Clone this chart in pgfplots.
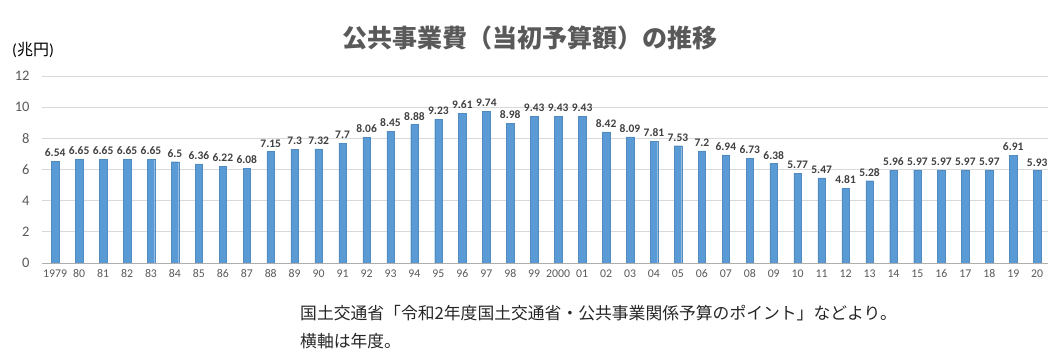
\documentclass[border=0pt]{standalone}
\usepackage{pgfplots}
\pgfplotsset{compat=1.18}
\usepackage{fontspec}
\setmainfont{Carlito}
\newfontfamily\jp{Noto Sans CJK JP}
\definecolor{barblue}{HTML}{5B9BD5}
\definecolor{txtgray}{HTML}{595959}
\definecolor{lblgray}{HTML}{404040}
\definecolor{gridgray}{HTML}{D9D9D9}
\begin{document}
\begin{tikzpicture}[x=1pt,y=1pt]
\path[use as bounding box] (0,0) rectangle (1063,364);
\begin{axis}[
  at={(42pt,101pt)}, anchor=south west,
  width=1006pt, height=187pt, scale only axis,
  xmin=-0.55, xmax=41.45, ymin=0, ymax=12,
  ytick={0,2,...,12},
  xtick={0,...,41},
  xticklabels={1979,80,81,82,83,84,85,86,87,88,89,90,91,92,93,94,95,96,97,98,99,2000,01,02,03,04,05,06,07,08,09,10,11,12,13,14,15,16,17,18,19,20},
  axis line style={draw=none},
  major tick length=0pt,
  ymajorgrids, grid style={gridgray, line width=0.8pt},
  tick label style={txtgray},
  yticklabel style={font=\fontsize{14.5}{16}\selectfont, xshift=-9pt},
  xticklabel style={font=\fontsize{11.8}{13}\selectfont, yshift=-3pt},
  /pgf/number format/assume math mode=true,
  clip=false,
]
\addplot[ybar, bar width=7.5pt, fill=barblue, draw=barblue!90!black, line width=0.3pt,
  nodes near coords, nodes near coords style={font=\fontsize{11.5}{13}\selectfont\bfseries, lblgray, yshift=1pt},
  /pgf/number format/assume math mode=true]
coordinates {
(0,6.54)(1,6.65)(2,6.65)(3,6.65)(4,6.65)(5,6.5)(6,6.36)(7,6.22)(8,6.08)(9,7.15)
(10,7.3)(11,7.32)(12,7.7)(13,8.06)(14,8.45)(15,8.88)(16,9.23)(17,9.61)(18,9.74)(19,8.98)
(20,9.43)(21,9.43)(22,9.43)(23,8.42)(24,8.09)(25,7.81)(26,7.53)(27,7.2)(28,6.94)(29,6.73)
(30,6.38)(31,5.77)(32,5.47)(33,4.81)(34,5.28)(35,5.96)(36,5.97)(37,5.97)(38,5.97)(39,5.97)
(40,6.91)(41,5.93)};
\draw[gridgray!80!black, line width=0.8pt] (axis cs:-0.55,0) -- (axis cs:41.45,0);
\end{axis}
\node[txtgray, font=\jp\bfseries\fontsize{25}{28}\selectfont] at (530,326) {公共事業費（当初予算額）の推移};
\node[black, font=\fontsize{16}{18}\selectfont, anchor=west, inner sep=0pt] at (12,314) {({\jp 兆円})};
\node[black!85, font=\jp\fontsize{16.8}{19}\selectfont, anchor=west, inner sep=0pt] at (300,51) {国土交通省「令和2年度国土交通省・公共事業関係予算のポイント」などより。};
\node[black!85, font=\jp\fontsize{16.8}{19}\selectfont, anchor=west, inner sep=0pt] at (300,23) {横軸は年度。};
\end{tikzpicture}
\end{document}
